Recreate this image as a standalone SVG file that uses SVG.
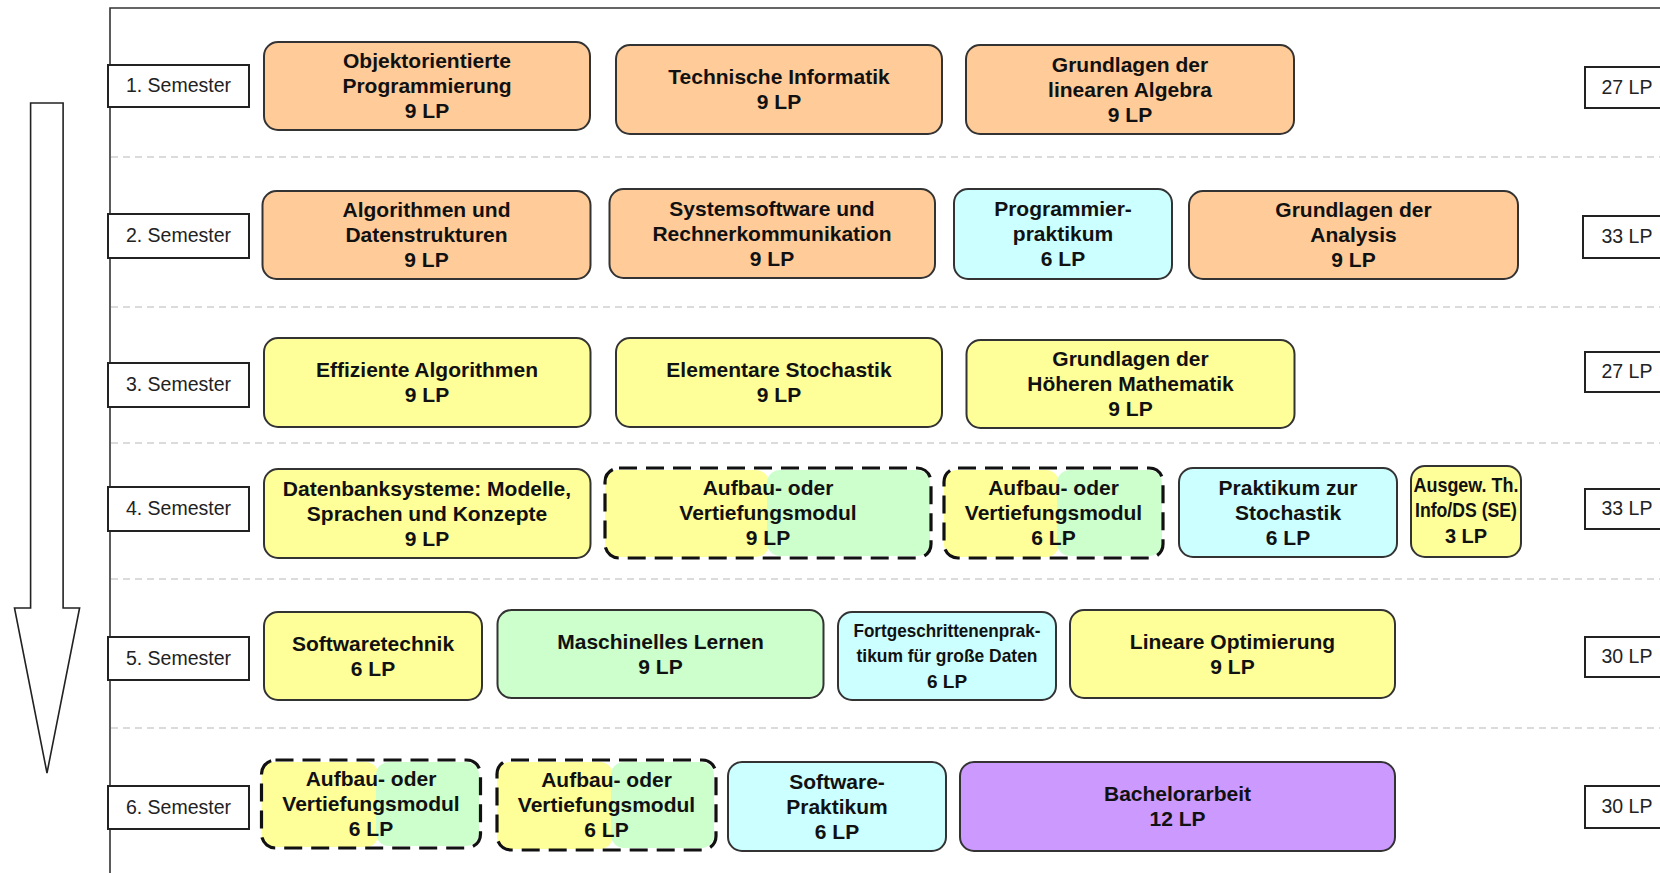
<svg xmlns="http://www.w3.org/2000/svg" width="1660" height="873" viewBox="0 0 1660 873">
<style>
.bg{fill:#ffffff}
.frame{fill:none;stroke:#333;stroke-width:1.6}
.sep{stroke:#cfcfcf;stroke-width:1.5;stroke-dasharray:7 5;fill:none}
.lab{fill:#fff;stroke:#222;stroke-width:2}
.labt{font-family:"Liberation Sans",Arial,sans-serif;font-size:19.5px;fill:#222;text-anchor:middle}
.box{stroke:#333;stroke-width:2}
.or{fill:#FFCC99}
.ye{fill:#FFFF99}
.cy{fill:#CCFFFF}
.gr{fill:#CCFFCC}
.pu{fill:#CC99FF}
.dash{fill:none;stroke:#111;stroke-width:3.2;stroke-dasharray:18 9}
.t{font-family:"Liberation Sans",Arial,sans-serif;font-size:21px;font-weight:bold;fill:#111;text-anchor:middle}
.ts{font-family:"Liberation Sans",Arial,sans-serif;font-size:19px;font-weight:bold;fill:#111;text-anchor:middle}
.arrow{fill:#fff;stroke:#222;stroke-width:1.6}
</style>
<rect class="bg" x="0" y="0" width="1660" height="873"/>

<g id="frame">
<path class="frame" d="M110,873 V8 H1660"/>
<line class="sep" x1="111" y1="157" x2="1660" y2="157"/>
<line class="sep" x1="111" y1="307" x2="1660" y2="307"/>
<line class="sep" x1="111" y1="443" x2="1660" y2="443"/>
<line class="sep" x1="111" y1="579" x2="1660" y2="579"/>
<line class="sep" x1="111" y1="728" x2="1660" y2="728"/>
</g>

<g id="connectors">
<polygon id="timeline-arrow" class="arrow" points="30.6,103 63.1,103 63.1,608 79.6,608 47,773 14.5,608 30.6,608"/>
</g>

<g id="semester-labels">
<g id="sem1"><rect class="lab" x="108" y="65" width="141" height="42"/><text class="labt" x="178.5" y="92">1. Semester</text></g>
<g id="sem2"><rect class="lab" x="108" y="214" width="141" height="44"/><text class="labt" x="178.5" y="242">2. Semester</text></g>
<g id="sem3"><rect class="lab" x="108" y="363" width="141" height="44"/><text class="labt" x="178.5" y="391">3. Semester</text></g>
<g id="sem4"><rect class="lab" x="108" y="487" width="141" height="44"/><text class="labt" x="178.5" y="515">4. Semester</text></g>
<g id="sem5"><rect class="lab" x="108" y="637" width="141" height="43"/><text class="labt" x="178.5" y="665">5. Semester</text></g>
<g id="sem6"><rect class="lab" x="108" y="786" width="141" height="43"/><text class="labt" x="178.5" y="814">6. Semester</text></g>
</g>

<g id="lp-totals">
<g id="lp1"><rect class="lab" x="1585" y="67" width="86" height="41"/><text class="labt" x="1627" y="94">27 LP</text></g>
<g id="lp2"><rect class="lab" x="1583" y="216" width="88" height="42"/><text class="labt" x="1627" y="243">33 LP</text></g>
<g id="lp3"><rect class="lab" x="1585" y="352" width="86" height="40"/><text class="labt" x="1627" y="378">27 LP</text></g>
<g id="lp4"><rect class="lab" x="1585" y="489" width="86" height="40"/><text class="labt" x="1627" y="515">33 LP</text></g>
<g id="lp5"><rect class="lab" x="1585" y="637" width="86" height="40"/><text class="labt" x="1627" y="663">30 LP</text></g>
<g id="lp6"><rect class="lab" x="1585" y="786" width="86" height="42"/><text class="labt" x="1627" y="813">30 LP</text></g>
</g>

<!-- Semester 1 -->
<g id="oop"><rect class="box or" x="264" y="42" width="326" height="88" rx="14"/>
<text class="t" x="427" y="68">Objektorientierte</text><text class="t" x="427" y="93">Programmierung</text><text class="t" x="427" y="118">9 LP</text></g>
<g id="ti"><rect class="box or" x="616" y="45" width="326" height="89" rx="14"/>
<text class="t" x="779" y="84">Technische Informatik</text><text class="t" x="779" y="109">9 LP</text></g>
<g id="la"><rect class="box or" x="966" y="45" width="328" height="89" rx="14"/>
<text class="t" x="1130" y="71.5">Grundlagen der</text><text class="t" x="1130" y="96.5">linearen Algebra</text><text class="t" x="1130" y="121.5">9 LP</text></g>

<!-- Semester 2 -->
<g id="algo"><rect class="box or" x="262.5" y="191" width="328" height="88" rx="14"/>
<text class="t" x="426.5" y="217">Algorithmen und</text><text class="t" x="426.5" y="242">Datenstrukturen</text><text class="t" x="426.5" y="267">9 LP</text></g>
<g id="sysw"><rect class="box or" x="609.5" y="189" width="325.5" height="89" rx="14"/>
<text class="t" x="772" y="215.5">Systemsoftware und</text><text class="t" x="772" y="240.5">Rechnerkommunikation</text><text class="t" x="772" y="265.5">9 LP</text></g>
<g id="progprak"><rect class="box cy" x="954" y="189" width="218" height="90" rx="14"/>
<text class="t" x="1063" y="216">Programmier-</text><text class="t" x="1063" y="241">praktikum</text><text class="t" x="1063" y="266">6 LP</text></g>
<g id="ana"><rect class="box or" x="1189" y="191" width="329" height="88" rx="14"/>
<text class="t" x="1353.5" y="217">Grundlagen der</text><text class="t" x="1353.5" y="242">Analysis</text><text class="t" x="1353.5" y="267">9 LP</text></g>

<!-- Semester 3 -->
<g id="effalg"><rect class="box ye" x="264" y="338" width="326.5" height="89" rx="14"/>
<text class="t" x="427" y="377">Effiziente Algorithmen</text><text class="t" x="427" y="402">9 LP</text></g>
<g id="stoch"><rect class="box ye" x="616" y="338" width="326" height="89" rx="14"/>
<text class="t" x="779" y="377">Elementare Stochastik</text><text class="t" x="779" y="402">9 LP</text></g>
<g id="hm"><rect class="box ye" x="966.5" y="340" width="328" height="88" rx="14"/>
<text class="t" x="1130.5" y="366">Grundlagen der</text><text class="t" x="1130.5" y="391">Höheren Mathematik</text><text class="t" x="1130.5" y="416">9 LP</text></g>

<!-- Semester 4 -->
<g id="dbs"><rect class="box ye" x="264" y="469" width="326.5" height="89" rx="14"/>
<text class="t" x="427" y="495.5">Datenbanksysteme: Modelle,</text><text class="t" x="427" y="520.5">Sprachen und Konzepte</text><text class="t" x="427" y="545.5">9 LP</text></g>
<g id="av4a"><rect class="ye" x="605" y="470" width="164" height="87" rx="13"/><rect class="gr" x="767" y="470" width="163" height="86" rx="13"/>
<rect class="dash" x="605" y="468" width="326" height="90" rx="14"/>
<text class="t" x="768" y="495">Aufbau- oder</text><text class="t" x="768" y="520">Vertiefungsmodul</text><text class="t" x="768" y="545">9 LP</text></g>
<g id="av4b"><rect class="ye" x="944" y="470" width="115" height="87" rx="13"/><rect class="gr" x="1057" y="470" width="105" height="86" rx="13"/>
<rect class="dash" x="944" y="468" width="219" height="90" rx="14"/>
<text class="t" x="1053.5" y="495">Aufbau- oder</text><text class="t" x="1053.5" y="520">Vertiefungsmodul</text><text class="t" x="1053.5" y="545">6 LP</text></g>
<g id="prakstoch"><rect class="box cy" x="1179" y="468" width="218" height="89" rx="14"/>
<text class="t" x="1288" y="494.5">Praktikum zur</text><text class="t" x="1288" y="519.5">Stochastik</text><text class="t" x="1288" y="544.5">6 LP</text></g>
<g id="ausgew"><rect class="box ye" x="1411" y="466" width="110" height="91" rx="14"/>
<text class="t" x="1466" y="492" font-size="20" textLength="105" lengthAdjust="spacingAndGlyphs">Ausgew. Th.</text>
<text class="t" x="1466" y="517" font-size="20" textLength="102" lengthAdjust="spacingAndGlyphs">Info/DS (SE)</text>
<text class="t" x="1466" y="543" style="font-size:20px">3 LP</text></g>

<!-- Semester 5 -->
<g id="swt"><rect class="box ye" x="264" y="612" width="218" height="88" rx="14"/>
<text class="t" x="373" y="650.5">Softwaretechnik</text><text class="t" x="373" y="675.5">6 LP</text></g>
<g id="ml"><rect class="box gr" x="497.5" y="610" width="326" height="88" rx="14"/>
<text class="t" x="660.5" y="648.5">Maschinelles Lernen</text><text class="t" x="660.5" y="673.5">9 LP</text></g>
<g id="fprak"><rect class="box cy" x="838" y="612" width="218" height="88" rx="14"/>
<text class="ts" x="947" y="637" textLength="187" lengthAdjust="spacingAndGlyphs">Fortgeschrittenenprak-</text>
<text class="ts" x="947" y="662" textLength="181" lengthAdjust="spacingAndGlyphs">tikum für große Daten</text>
<text class="ts" x="947" y="688">6 LP</text></g>
<g id="linopt"><rect class="box ye" x="1070" y="610" width="325" height="88" rx="14"/>
<text class="t" x="1232.5" y="648.5">Lineare Optimierung</text><text class="t" x="1232.5" y="673.5">9 LP</text></g>

<!-- Semester 6 -->
<g id="av6a"><rect class="ye" x="261.5" y="762" width="117" height="85" rx="13"/><rect class="gr" x="376" y="762" width="103" height="84" rx="13"/>
<rect class="dash" x="261.5" y="760" width="219" height="88" rx="14"/>
<text class="t" x="371" y="786">Aufbau- oder</text><text class="t" x="371" y="811">Vertiefungsmodul</text><text class="t" x="371" y="836">6 LP</text></g>
<g id="av6b"><rect class="ye" x="497" y="762" width="116" height="87" rx="13"/><rect class="gr" x="611" y="762" width="103" height="86" rx="13"/>
<rect class="dash" x="497" y="760" width="219" height="90" rx="14"/>
<text class="t" x="606.5" y="787">Aufbau- oder</text><text class="t" x="606.5" y="812">Vertiefungsmodul</text><text class="t" x="606.5" y="837">6 LP</text></g>
<g id="swprak"><rect class="box cy" x="728" y="762" width="218" height="89" rx="14"/>
<text class="t" x="837" y="788.5">Software-</text><text class="t" x="837" y="813.5">Praktikum</text><text class="t" x="837" y="838.5">6 LP</text></g>
<g id="ba"><rect class="box pu" x="960" y="762" width="435" height="89" rx="14"/>
<text class="t" x="1177.5" y="801">Bachelorarbeit</text><text class="t" x="1177.5" y="826">12 LP</text></g>
</svg>
